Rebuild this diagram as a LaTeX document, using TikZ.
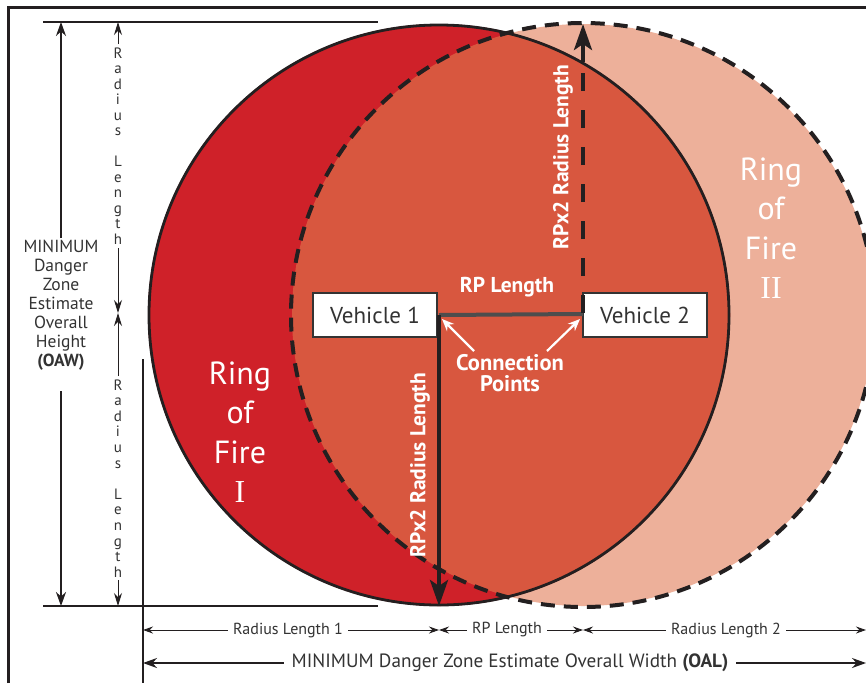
\documentclass[tikz,border=0pt]{standalone}
\usepackage{fontspec}
\setmainfont{PT Sans}
\newfontfamily\numfont{Liberation Serif}
\usetikzlibrary{arrows.meta}
\definecolor{ringone}{HTML}{CF2129}
\definecolor{overlapred}{HTML}{D8573F}
\definecolor{ringtwo}{HTML}{EDB09A}
\definecolor{ink}{HTML}{231F20}
\definecolor{rpgray}{HTML}{4D4D4D}
\definecolor{txtgray}{HTML}{333333}
\begin{document}
\begin{tikzpicture}[x=1pt,y=-1pt,
  frameline/.style={ink,line width=3pt},
  extline/.style={ink,line width=1.6pt},
  dimthin/.style={ink,line width=0.9pt,{Stealth[length=10pt,width=7pt]}-{Stealth[length=10pt,width=7pt]}},
  dimthick/.style={ink,line width=1.8pt,{Stealth[length=14pt,width=10pt]}-{Stealth[length=14pt,width=10pt]}},
  dimlbl/.style={fill=white,inner sep=5pt,text=txtgray,font=\fontsize{16}{18}\selectfont},
  biglbl/.style={fill=white,inner sep=8pt,text=txtgray,font=\fontsize{19.2}{21}\selectfont},
  letter/.style={anchor=base,inner sep=0pt,text=txtgray,font=\fontsize{15}{16}\selectfont},
  vehicle/.style={draw=txtgray,fill=white,line width=1.3pt,minimum width=124pt,minimum height=44pt,inner sep=0pt,text=txtgray,font=\fontsize{23}{25}\selectfont},
  whitebold/.style={text=white,font=\bfseries\fontsize{21.5}{23}\selectfont,align=center},
  ringlbl/.style={text=white,align=center,font=\fontsize{32}{39.5}\selectfont},
  bigarrow/.style={ink,line width=4pt,-{Stealth[length=26pt,width=18pt,inset=6pt]}},
]
\useasboundingbox (0,0) rectangle (866,683);
\clip (0,0) rectangle (866,683);
\fill[white] (0,0) rectangle (866,683);

% circle centres
\coordinate (c1) at (439,315);
\coordinate (c2) at (583,315);

% fills
\fill[ringtwo] (c2) circle[radius=291pt];
\fill[ringone] (c1) circle[radius=291pt];
\begin{scope}
  \clip (c1) circle[radius=291pt];
  \fill[overlapred] (c2) circle[radius=291pt];
\end{scope}

% outlines
\draw[ink,line width=2.8pt] (c1) circle[radius=290pt];
\draw[ink,line width=4pt,dash pattern=on 14pt off 9pt] (c2) circle[radius=292pt];

% frame
\draw[frameline] (8,683) -- (8,7) -- (866,7);

% extension lines
\coordinate (topL) at (43,22);
\coordinate (topR) at (378,22);
\coordinate (botL) at (43,606);
\coordinate (botR) at (378,606);
\draw[extline] (topL) -- (topR);
\draw[extline] (botL) -- (botR);
\coordinate (vxT) at (143,359);
\coordinate (vxB) at (143,683);
\draw[extline] (vxT) -- (vxB);

% OAW text and arrows
\node[text=txtgray,align=center,font=\fontsize{17.5}{19}\selectfont] (oaw) at (61,305)
  {MINIMUM\\Danger\\Zone\\Estimate\\Overall\\Height\\\textbf{(OAW)}};
\coordinate (oawT) at (61,22);
\coordinate (oawB) at (61,606);
\draw[ink,line width=1.8pt,-{Stealth[length=14pt,width=10pt]}] (oaw.north |- 0,238) -- (oawT);
\draw[ink,line width=1.8pt,-{Stealth[length=14pt,width=10pt]}] (oaw.south |- 0,391) -- (oawB);

% Radius Length stacked letters
\foreach \ch [count=\i] in {R,a,d,i,u,s,{},L,e,n,g,t,h} {
  \node[letter] (ua\i) at (118,{58+(\i-1)*15.5}) {\ch};
  \node[letter] (la\i) at (118,{390+(\i-1)*15.6}) {\ch};
}
\coordinate (rTop) at (118,22);
\coordinate (rMid) at (118,313);
\coordinate (rBot) at (118,606);
\draw[ink,line width=0.9pt,-{Stealth[length=13pt,width=8pt]}] (118,44) -- (rTop);
\draw[ink,line width=0.9pt,-{Stealth[length=13pt,width=8pt]}] (118,248) -- (rMid);
\draw[ink,line width=0.9pt,-{Stealth[length=13pt,width=8pt]}] (118,376) -- (rMid);
\draw[ink,line width=0.9pt,-{Stealth[length=13pt,width=8pt]}] (118,580) -- (rBot);

% vehicles
\node[vehicle] (v1) at (375,315) {Vehicle 1};
\node[vehicle] (v2) at (645,315) {Vehicle 2};
\coordinate (cp1) at (439,315);
\coordinate (cp2) at (583,314);
\draw[rpgray,line width=4pt] (cp1) -- (cp2);

% RPx2 arrows
\coordinate (downTip) at (439,606);
\draw[bigarrow] (cp1) -- (downTip);
\node[whitebold,rotate=90] (rpx2a) at (420,465) {RPx2 Radius Length};

\coordinate (upTip) at (583,24);
\draw[ink,line width=4pt,dash pattern=on 18pt off 19pt] (583,313) -- (583,60);
\draw[bigarrow] (583,62) -- (upTip);
\node[whitebold,rotate=90] (rpx2b) at (563,157) {RPx2 Radius Length};

% RP Length and connection points
\node[whitebold] (rpl) at (507,287) {RP Length};
\node[whitebold,font=\bfseries\fontsize{22.5}{21.5}\selectfont] (conn) at (510,373) {Connection\\Points};
\draw[white,line width=2.2pt,-{Stealth[length=12pt,width=10pt]}] (474,351) -- (442,319);
\draw[white,line width=2.2pt,-{Stealth[length=12pt,width=10pt]}] (547,351) -- (580,319);

% Ring of Fire labels
\node[ringlbl] (r1) at (240,432) {Ring\\of\\Fire\\{\numfont I}};
\node[ringlbl] (r2) at (771,228) {Ring\\of\\Fire\\{\numfont II}};

% bottom dimensions
\coordinate (d0) at (143,630);
\coordinate (d1) at (439,630);
\coordinate (d2) at (583,630);
\coordinate (d3) at (866,630);
\draw[dimthin] (d0) -- (d1);
\draw[dimthin] (d1) -- (d2);
\draw[dimthin] (d2) -- (d3);
\node[dimlbl] (rl1) at (288,630) {Radius Length 1};
\node[dimlbl] (rpl2) at (507,630) {RP Length};
\node[dimlbl] (rl2) at (726,630) {Radius Length 2};

\coordinate (e0) at (143,663);
\coordinate (e1) at (866,663);
\draw[dimthick] (e0) -- (e1);
\node[biglbl] (oal) at (510,663) {MINIMUM Danger Zone Estimate Overall Width \textbf{(OAL)}};
\end{tikzpicture}
\end{document}
